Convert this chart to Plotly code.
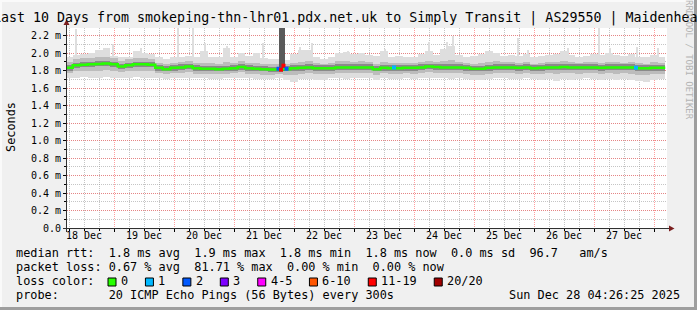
import plotly.graph_objects as go
from datetime import datetime, timedelta

# ---------------- data ----------------
TITLE = "Last 10 Days from smokeping-thn-lhr01.pdx.net.uk to Simply Transit | AS29550 | Maidenhead"
Y_LABEL = "Seconds"
WATERMARK = "RRDTOOL / TOBI OETIKER"

BUCKET_START = "2025-12-18 04:30"
BUCKET_HOURS = 3
RANGE_START = "2025-12-18 05:12"
RANGE_END = "2025-12-28 05:12"

# median rtt per 3h bucket (ms)
median_ms = [1.83, 1.86, 1.865, 1.87, 1.875, 1.88, 1.87, 1.845, 1.86, 1.87,
             1.87, 1.865, 1.83, 1.815, 1.83, 1.835, 1.845, 1.825, 1.82, 1.82,
             1.815, 1.82, 1.825, 1.84, 1.825, 1.82, 1.815, 1.81, 1.81, 1.815,
             1.825, 1.83, 1.835, 1.825, 1.825, 1.825, 1.835, 1.835, 1.835, 1.835,
             1.835, 1.815, 1.83, 1.825, 1.825, 1.83, 1.83, 1.835, 1.845, 1.84,
             1.835, 1.835, 1.835, 1.83, 1.82, 1.82, 1.83, 1.835, 1.835, 1.835,
             1.83, 1.835, 1.825, 1.83, 1.835, 1.835, 1.84, 1.835, 1.835, 1.835,
             1.835, 1.83, 1.835, 1.835, 1.835, 1.835, 1.825, 1.825, 1.83, 1.83]

# outer smoke (min / max ping)
smoke_min = [1.72, 1.72, 1.73, 1.72, 1.72, 1.73, 1.72, 1.71, 1.72, 1.73,
             1.72, 1.72, 1.71, 1.70, 1.71, 1.71, 1.72, 1.71, 1.71, 1.70,
             1.70, 1.71, 1.71, 1.72, 1.71, 1.70, 1.70, 1.70, 1.72, 1.69,
             1.67, 1.70, 1.70, 1.69, 1.69, 1.71, 1.71, 1.70, 1.71, 1.71,
             1.72, 1.69, 1.71, 1.70, 1.70, 1.71, 1.70, 1.71, 1.72, 1.71,
             1.71, 1.70, 1.71, 1.70, 1.69, 1.69, 1.70, 1.71, 1.71, 1.70,
             1.70, 1.71, 1.70, 1.69, 1.70, 1.68, 1.70, 1.69, 1.70, 1.71,
             1.70, 1.69, 1.70, 1.69, 1.70, 1.69, 1.68, 1.67, 1.69, 1.70]
smoke_max = [1.96, 1.98, 1.99, 2.00, 2.04, 2.06, 1.97, 1.96, 1.96, 2.02,
             2.00, 1.99, 1.95, 1.93, 1.95, 1.96, 1.97, 1.96, 2.02, 1.95,
             1.96, 2.06, 1.95, 2.00, 1.97, 2.00, 1.94, 1.93, 1.93, 1.92,
             1.99, 2.03, 2.04, 1.95, 1.93, 1.95, 2.00, 2.01, 1.99, 2.00,
             1.98, 1.97, 2.02, 1.96, 1.97, 1.95, 1.96, 1.99, 2.02, 1.98,
             2.05, 2.08, 1.98, 1.96, 1.97, 1.99, 2.02, 2.00, 1.97, 1.98,
             1.97, 1.99, 1.95, 1.97, 1.98, 1.99, 2.02, 1.98, 1.96, 1.97,
             1.99, 1.98, 2.00, 1.98, 1.97, 1.99, 1.96, 1.96, 1.98, 1.96]
# middle smoke band
smoke_mid_lo = [1.77, 1.79, 1.80, 1.80, 1.80, 1.81, 1.80, 1.78, 1.79, 1.80,
                1.80, 1.79, 1.77, 1.76, 1.77, 1.77, 1.78, 1.76, 1.76, 1.76,
                1.76, 1.76, 1.77, 1.78, 1.76, 1.76, 1.75, 1.75, 1.76, 1.75,
                1.75, 1.76, 1.77, 1.76, 1.76, 1.76, 1.77, 1.77, 1.77, 1.77,
                1.77, 1.75, 1.77, 1.76, 1.76, 1.77, 1.76, 1.77, 1.78, 1.77,
                1.77, 1.77, 1.77, 1.76, 1.75, 1.75, 1.76, 1.77, 1.77, 1.77,
                1.76, 1.77, 1.76, 1.76, 1.77, 1.76, 1.77, 1.77, 1.76, 1.77,
                1.77, 1.76, 1.77, 1.76, 1.77, 1.76, 1.75, 1.75, 1.76, 1.76]
smoke_mid_hi = [1.90, 1.93, 1.94, 1.94, 1.95, 1.96, 1.94, 1.91, 1.93, 1.94,
                1.94, 1.93, 1.89, 1.88, 1.89, 1.90, 1.91, 1.89, 1.89, 1.89,
                1.88, 1.90, 1.89, 1.91, 1.89, 1.89, 1.88, 1.87, 1.87, 1.87,
                1.89, 1.90, 1.91, 1.89, 1.88, 1.89, 1.91, 1.91, 1.90, 1.91,
                1.90, 1.88, 1.90, 1.89, 1.89, 1.89, 1.89, 1.90, 1.91, 1.90,
                1.91, 1.92, 1.90, 1.89, 1.88, 1.89, 1.90, 1.91, 1.90, 1.90,
                1.89, 1.90, 1.88, 1.89, 1.90, 1.90, 1.91, 1.90, 1.89, 1.90,
                1.90, 1.89, 1.90, 1.90, 1.89, 1.90, 1.89, 1.88, 1.90, 1.89]
# inner smoke band
smoke_in_lo = [1.80, 1.83, 1.84, 1.84, 1.85, 1.85, 1.84, 1.82, 1.83, 1.84,
               1.84, 1.84, 1.80, 1.79, 1.80, 1.81, 1.82, 1.80, 1.79, 1.79,
               1.79, 1.79, 1.80, 1.81, 1.80, 1.79, 1.79, 1.78, 1.78, 1.79,
               1.80, 1.80, 1.81, 1.80, 1.80, 1.80, 1.81, 1.81, 1.81, 1.81,
               1.81, 1.79, 1.80, 1.80, 1.80, 1.80, 1.80, 1.81, 1.82, 1.81,
               1.81, 1.81, 1.81, 1.80, 1.79, 1.79, 1.80, 1.81, 1.81, 1.81,
               1.80, 1.81, 1.80, 1.80, 1.81, 1.81, 1.81, 1.81, 1.81, 1.81,
               1.81, 1.80, 1.81, 1.81, 1.81, 1.81, 1.80, 1.80, 1.80, 1.80]
smoke_in_hi = [1.86, 1.89, 1.90, 1.90, 1.91, 1.91, 1.90, 1.88, 1.89, 1.90,
               1.90, 1.90, 1.86, 1.85, 1.86, 1.87, 1.88, 1.86, 1.85, 1.85,
               1.85, 1.85, 1.86, 1.87, 1.86, 1.85, 1.85, 1.84, 1.84, 1.85,
               1.86, 1.86, 1.87, 1.86, 1.86, 1.86, 1.87, 1.87, 1.87, 1.87,
               1.87, 1.85, 1.86, 1.86, 1.86, 1.86, 1.86, 1.87, 1.88, 1.87,
               1.87, 1.87, 1.87, 1.86, 1.85, 1.85, 1.86, 1.87, 1.87, 1.87,
               1.86, 1.87, 1.86, 1.86, 1.87, 1.87, 1.87, 1.87, 1.87, 1.87,
               1.87, 1.86, 1.87, 1.87, 1.87, 1.87, 1.86, 1.86, 1.86, 1.86]

# isolated tall pings (outer smoke spikes)
spike_times = ["2025-12-18 08:48", "2025-12-18 23:36", "2025-12-19 10:48", "2025-12-20 01:36",
               "2025-12-20 07:36", "2025-12-20 12:24", "2025-12-20 21:12", "2025-12-21 11:36",
               "2025-12-22 02:24", "2025-12-22 07:12", "2025-12-22 21:36", "2025-12-23 12:24",
               "2025-12-24 06:00", "2025-12-24 13:12", "2025-12-24 15:36", "2025-12-25 17:36",
               "2025-12-25 21:36", "2025-12-26 13:36", "2025-12-27 02:00", "2025-12-27 06:24",
               "2025-12-27 17:12", "2025-12-28 01:36"]
spike_max = [2.27, 2.10, 2.06, 2.35, 2.35, 2.12, 2.08, 2.11, 2.07, 2.11, 2.02,
             2.05, 2.13, 2.13, 2.20, 2.17, 2.03, 2.06, 2.35, 2.06, 2.07, 2.06]
SPIKE_BASE = 1.90

# heavy-loss sample (few replies, dark smoke)
lossbar_time = "2025-12-21 19:05"
lossbar_lo = 1.79
lossbar_hi = 2.40

# samples with packet loss: time, median, lost pings (of 20)
loss_times = ["2025-12-21 17:48", "2025-12-21 18:48", "2025-12-21 19:48", "2025-12-21 21:00",
              "2025-12-23 16:00", "2025-12-27 16:48"]
loss_median = [1.82, 1.81, 1.855, 1.82, 1.835, 1.832]
loss_count = [2, 16, 14, 2, 1, 1]

loss_labels = ["0", "1", "2", "3", "4-5", "6-10", "11-19", "20/20"]
loss_upper = [0, 1, 2, 3, 5, 10, 19, 20]
loss_colors = ["#26ff00", "#00b8ff", "#0059ff", "#7e00ff", "#ff00ff", "#ff5500", "#ff0000", "#a10000"]

day_noons = ["2025-12-%02d 12:00" % d for d in range(18, 28)]
day_labels = ["%d Dec" % d for d in range(18, 28)]

y_ticks = [0.0, 0.2, 0.4, 0.6, 0.8, 1.0, 1.2, 1.4, 1.6, 1.8, 2.0, 2.2]
y_labels = ["0.0", "0.2 m", "0.4 m", "0.6 m", "0.8 m", "1.0 m", "1.2 m",
            "1.4 m", "1.6 m", "1.8 m", "2.0 m", "2.2 m"]
Y_MAX = 2.2857

legend_lines = [
    "median rtt:  1.8 ms avg  1.9 ms max  1.8 ms min  1.8 ms now  0.0 ms sd  96.7   am/s",
    "packet loss: 0.67 % avg  81.71 % max  0.00 % min  0.00 % now",
    "loss color:",
    "probe:       20 ICMP Echo Pings (56 Bytes) every 300s",
]
DATE_STAMP = "Sun Dec 28 04:26:25 2025"

# ---------------- geometry ----------------
FW, FH = 697, 310
PL, PT, PW, PH = 67, 28, 600, 200
MONO = "DejaVu Sans Mono"


def px(x):
    return (x - PL) / PW


def py(y):
    return (PT + PH - y) / PH


def nb(s):
    return s.replace(" ", "\u00a0")


t0 = datetime.strptime(BUCKET_START, "%Y-%m-%d %H:%M")
step = timedelta(hours=BUCKET_HOURS)
starts = [t0 + i * step for i in range(len(median_ms))]
centers = [s + step / 2 for s in starts]
bucket_ms = BUCKET_HOURS * 3600 * 1000


def loss_color(n):
    for up, c in zip(loss_upper, loss_colors):
        if n <= up:
            return c
    return loss_colors[-1]


fig = go.Figure()

layers = [(smoke_min, smoke_max, "#dedede"),
          (smoke_mid_lo, smoke_mid_hi, "#bcbcbc"),
          (smoke_in_lo, smoke_in_hi, "#8a8a8a")]
for i, (lo, hi, col) in enumerate(layers):
    fig.add_trace(go.Bar(x=centers, y=[h - l for l, h in zip(lo, hi)], base=lo,
                         width=bucket_ms, marker=dict(color=col, line=dict(width=0)),
                         hoverinfo="skip", showlegend=False))
    if i == 0:
        fig.add_trace(go.Bar(x=spike_times, y=[v - SPIKE_BASE for v in spike_max],
                             base=SPIKE_BASE, width=1.1 * 3600 * 1000,
                             marker=dict(color=col, line=dict(width=0)),
                             hoverinfo="skip", showlegend=False))

fig.add_trace(go.Bar(x=[lossbar_time], y=[lossbar_hi - lossbar_lo], base=[lossbar_lo],
                     width=2.4 * 3600 * 1000, marker=dict(color="#5a5a5a", line=dict(width=0)),
                     hoverinfo="skip", showlegend=False))

fig.add_trace(go.Scatter(x=starts + [starts[-1] + step], y=median_ms + [median_ms[-1]],
                         mode="lines", line=dict(color=loss_colors[0], width=2.5, shape="hv"),
                         hoverinfo="skip", showlegend=False))

fig.add_trace(go.Scatter(x=loss_times, y=loss_median, mode="markers",
                         marker=dict(symbol="square", size=4,
                                     color=[loss_color(n) for n in loss_count],
                                     line=dict(width=0)),
                         hoverinfo="skip", showlegend=False))

# invisible trace to carry the label axis
fig.add_trace(go.Scatter(x=day_noons, y=[0] * len(day_noons), xaxis="x2", mode="markers",
                         marker=dict(opacity=0), hoverinfo="skip", showlegend=False))

red_grid = "rgba(255,80,80,0.55)"
grey_grid = "rgba(150,150,150,0.55)"

fig.update_layout(
    width=FW, height=FH,
    margin=dict(l=PL, r=FW - PL - PW, t=PT, b=FH - PT - PH, pad=0),
    paper_bgcolor="#f0f0f0", plot_bgcolor="#ffffff",
    barmode="overlay", bargap=0,
    showlegend=False,
    xaxis=dict(type="date", range=[RANGE_START, RANGE_END], tickmode="linear",
               tick0="2025-12-18 00:00", dtick=86400000, showticklabels=False,
               ticks="outside", ticklen=3, tickcolor="#000",
               showgrid=True, gridcolor=red_grid, griddash="1px,1px", gridwidth=1,
               minor=dict(tickmode="linear", tick0="2025-12-18 00:00", dtick=21600000,
                          showgrid=True, gridcolor=grey_grid, griddash="1px,1px",
                          ticks="outside", ticklen=2, tickcolor="#000"),
               showline=False, zeroline=False, fixedrange=True),
    xaxis2=dict(type="date", overlaying="x", anchor="y", side="bottom",
                range=[RANGE_START, RANGE_END], tickmode="array", tickvals=day_noons,
                ticktext=day_labels, showgrid=False, ticks="", showline=False, zeroline=False,
                tickfont=dict(family=MONO, size=10, color="#000"), fixedrange=True),
    yaxis=dict(range=[0, Y_MAX], tickmode="array", tickvals=y_ticks, ticktext=y_labels,
               ticks="outside", ticklen=3, tickcolor="#000",
               showgrid=True, gridcolor=red_grid, griddash="1px,1px", gridwidth=1,
               minor=dict(tickmode="linear", tick0=0, dtick=0.1, showgrid=True,
                          gridcolor=grey_grid, griddash="1px,1px",
                          ticks="outside", ticklen=2, tickcolor="#000"),
               tickfont=dict(family=MONO, size=10, color="#000"),
               showline=False, zeroline=False, fixedrange=True),
)

ann = []


def text(x, y, s, size, anchor="left", color="#000", angle=0, yanchor="middle"):
    ann.append(dict(x=px(x), y=py(y), xref="paper", yref="paper", text=nb(s),
                    showarrow=False, xanchor=anchor, yanchor=yanchor, textangle=angle,
                    font=dict(family=MONO, size=size, color=color),
                    borderpad=0, borderwidth=0))


text(349, 18, TITLE, 13.3, anchor="center")
text(10.5, 127.5, Y_LABEL, 11.85, anchor="center", angle=-90)
text(689, 60, WATERMARK, 9, anchor="center", color="#b4b4b4", angle=90)

line_y = [253, 267, 281, 295]
for s, yy in zip(legend_lines, line_y):
    text(16, yy, s, 11.85)
text(680, line_y[3], DATE_STAMP, 11.85, anchor="right")

shapes = []
cx = 108.0
for lab, col in zip(loss_labels, loss_colors):
    shapes.append(dict(type="rect", xref="paper", yref="paper",
                       x0=px(cx), x1=px(cx + 8), y0=py(286), y1=py(278),
                       fillcolor=col, line=dict(color="#000", width=1)))
    text(cx + 13, line_y[2], lab, 11.85)
    cx += 13 + len(lab) * 7.134 + 17.3

# axis lines and arrows
axis_col = "#303030"
arrow_col = "#7a1f1f"
shapes.append(dict(type="line", xref="paper", yref="paper", x0=px(63), x1=px(670),
                   y0=py(228.5), y1=py(228.5), line=dict(color=axis_col, width=1)))
shapes.append(dict(type="line", xref="paper", yref="paper", x0=px(66.5), x1=px(66.5),
                   y0=py(232), y1=py(24), line=dict(color=axis_col, width=1)))
shapes.append(dict(type="path", xref="paper", yref="paper",
                   path="M %f,%f L %f,%f L %f,%f Z" % (px(669), py(225.5), px(674.5), py(228.5),
                                                      px(669), py(231.5)),
                   fillcolor=arrow_col, line=dict(width=0)))
shapes.append(dict(type="path", xref="paper", yref="paper",
                   path="M %f,%f L %f,%f L %f,%f Z" % (px(63.5), py(25), px(66.5), py(19.5),
                                                      px(69.5), py(25)),
                   fillcolor=arrow_col, line=dict(width=0)))

# frame shading
shapes.append(dict(type="rect", xref="paper", yref="paper", x0=px(0), x1=px(FW),
                   y0=py(0), y1=py(2), fillcolor="#fafafa", line=dict(width=0)))
shapes.append(dict(type="rect", xref="paper", yref="paper", x0=px(0), x1=px(2),
                   y0=py(0), y1=py(FH), fillcolor="#fafafa", line=dict(width=0)))
shapes.append(dict(type="rect", xref="paper", yref="paper", x0=px(0), x1=px(FW),
                   y0=py(FH - 3), y1=py(FH), fillcolor="#9e9e9e", line=dict(width=0)))
shapes.append(dict(type="rect", xref="paper", yref="paper", x0=px(FW - 3), x1=px(FW),
                   y0=py(0), y1=py(FH), fillcolor="#9e9e9e", line=dict(width=0)))

fig.update_layout(annotations=ann, shapes=shapes)
fig.write_html("out.html")
